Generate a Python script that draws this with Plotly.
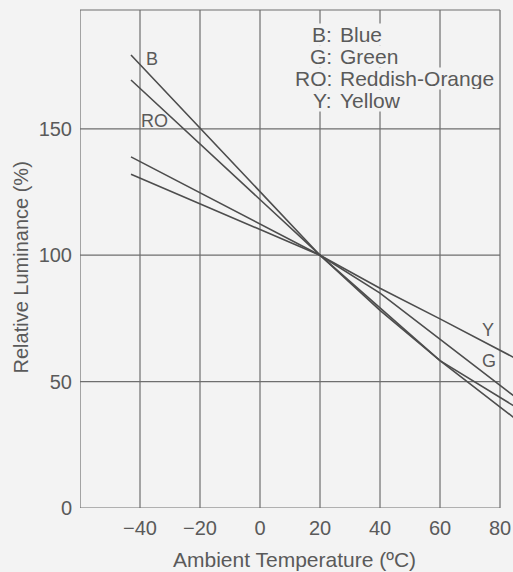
import plotly.graph_objects as go

# ---- data ----
temps = [-43, -20, 0, 20, 40, 60, 85]
blue = [179.2, 150.3, 125.2, 100, 78.2, 58.3, 40.1]
reddish_orange = [169.3, 144.0, 122.0, 100, 79.2, 58.3, 35.4]
green = [138.9, 124.7, 112.3, 100, 85.0, 66.9, 44.0]
yellow = [132.0, 120.3, 110.2, 100, 86.9, 74.8, 59.3]

series_names = ["B", "RO", "G", "Y"]
series_values = [blue, reddish_orange, green, yellow]

x_ticks = [-40, -20, 0, 20, 40, 60, 80]
x_tick_labels = ["\u221240", "\u221220", "0", "20", "40", "60", "80"]
y_ticks = [0, 50, 100, 150]
y_tick_labels = ["0", "50", "100", "150"]

legend_keys = ["B:", "G:", "RO:", "Y:"]
legend_names = ["Blue", "Green", "Reddish-Orange", "Yellow"]

# label anchor points (data coords)
label_pos = {"B": (-36, 177.6), "RO": (-35.2, 153.1), "Y": (76, 70.3), "G": (76.3, 58.2)}

X_MIN, X_BOX_MAX, X_VIEW_MAX = -60, 80, 84.33
Y_MIN, Y_MAX = 0, 197

BG = "#f3f3f3"
GRID = "#6e6e6e"
LINE = "#4d4d4d"
TXT = "#5a5a5a"
FONT = "Liberation Sans, Arial, Helvetica, sans-serif"

fig = go.Figure()
for name, vals in zip(series_names, series_values):
    fig.add_trace(go.Scatter(x=temps, y=vals, mode="lines", name=name,
                             line=dict(color=LINE, width=1.6), showlegend=False,
                             hoverinfo="skip"))

shapes = []
for xv in [X_MIN] + x_ticks:
    shapes.append(dict(type="line", xref="x", yref="paper", x0=xv, x1=xv, y0=0, y1=1,
                       line=dict(color=GRID, width=1.2), layer="below"))
for yv in y_ticks:
    shapes.append(dict(type="line", xref="x", yref="y", x0=X_MIN, x1=X_BOX_MAX, y0=yv, y1=yv,
                       line=dict(color=GRID, width=1.2), layer="below"))
shapes.append(dict(type="line", xref="x", yref="paper", x0=X_MIN, x1=X_BOX_MAX, y0=1, y1=1,
                   line=dict(color=GRID, width=1.2), layer="below"))

annotations = []
for name, (lx, ly) in label_pos.items():
    annotations.append(dict(x=lx, y=ly, xref="x", yref="y", text=name, showarrow=False,
                            font=dict(size=18, color=TXT, family=FONT)))

legend_px = [35.0, 56.8, 78.6, 100.4]
for k, n, py in zip(legend_keys, legend_names, legend_px):
    yy = (508 - py) / 498
    annotations.append(dict(x=(333 - 80) / 433, y=yy, xref="paper", yref="paper", text=k,
                            showarrow=False, xanchor="right", yanchor="middle", bgcolor=BG,
                            borderpad=0, height=21,
                            font=dict(size=21, color=TXT, family=FONT)))
    annotations.append(dict(x=(339 - 80) / 433, y=yy, xref="paper", yref="paper", text=n,
                            showarrow=False, xanchor="left", yanchor="middle", bgcolor=BG,
                            borderpad=0, height=21,
                            font=dict(size=21, color=TXT, family=FONT)))

annotations.append(dict(x=(294 - 80) / 433, y=(508 - 559) / 498, xref="paper", yref="paper",
                        text="Ambient Temperature (ºC)", showarrow=False, xanchor="center",
                        yanchor="middle", font=dict(size=21, color=TXT, family=FONT)))
annotations.append(dict(x=(20 - 80) / 433, y=(508 - 267.5) / 498, xref="paper", yref="paper",
                        text="Relative Luminance (%)", showarrow=False, textangle=-90,
                        xanchor="center", yanchor="middle",
                        font=dict(size=20, color=TXT, family=FONT)))

fig.update_layout(
    width=513, height=572,
    margin=dict(l=80, r=0, t=10, b=64),
    paper_bgcolor=BG, plot_bgcolor=BG,
    shapes=shapes, annotations=annotations,
    font=dict(family=FONT, color=TXT, size=20),
    xaxis=dict(range=[X_MIN, X_VIEW_MAX], tickvals=x_ticks, ticktext=x_tick_labels,
               showgrid=False, zeroline=False, showline=False, ticks="",
               ticklabelstandoff=6, tickfont=dict(size=20, color=TXT, family=FONT)),
    yaxis=dict(range=[Y_MIN, Y_MAX], tickvals=y_ticks, ticktext=y_tick_labels,
               showgrid=False, zeroline=False, showline=False, ticks="",
               ticklabelstandoff=7, tickfont=dict(size=20, color=TXT, family=FONT)),
)

fig.write_html(
    "out.html",
    config={"displayModeBar": False, "staticPlot": True},
    post_script="document.body.style.margin='0';document.body.style.overflow='hidden';"
                "document.body.style.background='" + BG + "';",
)
